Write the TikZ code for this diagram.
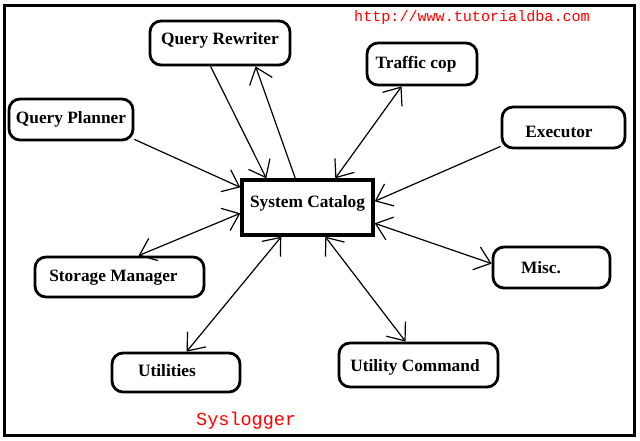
\documentclass[tikz,border=0pt]{standalone}
\usepackage{fontspec}
\setmainfont{Liberation Serif}
\newfontfamily\courier{Liberation Mono}
\usetikzlibrary{arrows.meta,calc}

\begin{document}
\begin{tikzpicture}[x=1pt,y=-1pt,inner sep=0pt,
    >={Straight Barb[length=15pt,width=24pt]},
    module/.style={draw,line width=2.8pt,rounded corners=11pt,
      font=\fontsize{17.3}{19}\selectfont\bfseries,text height=12pt,text depth=4pt},
    catalog/.style={module,line width=3.4pt,rounded corners=0pt,text depth=12pt},
    link/.style={line width=1.2pt,->},
    both/.style={line width=1.2pt,<->},
    redtext/.style={anchor=base west,text=red}]
 \useasboundingbox (0,0) rectangle (640,440);
 \draw[line width=3pt] (4,5) rectangle (634,435);
 \node[redtext,font=\courier\fontsize{15.1}{16}\selectfont] (url) at (354,21) {http://www.tutorialdba.com};
 \node[redtext,font=\courier\fontsize{18.5}{20}\selectfont] (syslog) at (196,425) {Syslogger};
 \node[module,minimum width=140pt,minimum height=44pt,text depth=9pt] (rewriter) at (220,43) {Query Rewriter};
 \node[module,minimum width=110pt,minimum height=42pt] (trafficcop) at (422,64) {\hspace*{-12pt}Traffic cop};
 \node[module,minimum width=124pt,minimum height=41pt] (planner) at (71,119.5) {Query Planner};
 \node[module,minimum width=123pt,minimum height=41pt,text height=19pt,text depth=0pt] (executor) at (563.5,127.5) {\hspace*{-9pt}Executor};
 \node[catalog,minimum width=131pt,minimum height=55pt] (catalog) at (307.5,207.5) {System Catalog};
 \node[module,minimum width=169pt,minimum height=40pt] (storage) at (119.5,277) {\hspace*{-12pt}Storage Manager};
 \node[module,minimum width=117pt,minimum height=41pt,text height=14pt,text depth=2pt] (misc) at (551.5,267.5) {\hspace*{-21pt}Misc.};
 \node[module,minimum width=128pt,minimum height=39pt] (utilities) at (176,372.5) {\hspace*{-18pt}Utilities};
 \node[module,minimum width=159pt,minimum height=44pt,text height=15pt,text depth=2pt] (utilcmd) at (418.5,365) {\hspace*{-7pt}Utility Command};
 \draw[link] ($(rewriter.south west)+(62,0)$) -- ($(catalog.north west)+(26,0)$);
 \draw[link] ($(catalog.north west)+(55,0)$) -- ($(rewriter.south west)+(107,0)$);
 \draw[both] ($(trafficcop.south west)+(36,0)$) -- ($(catalog.north west)+(95,0)$);
 \draw[link] ($(planner.south east)+(0,-2)$) -- ($(catalog.north west)+(0,9)$);
 \draw[both] ($(catalog.north west)+(0,35)$) -- ($(storage.north west)+(105,0)$);
 \draw[link] ($(executor.south west)+(0,-3)$) -- ($(catalog.north east)+(0,23)$);
 \draw[both] ($(catalog.north east)+(0,45)$) -- ($(misc.north west)+(0,18)$);
 \draw[both] ($(catalog.south west)+(41,0)$) -- ($(utilities.north west)+(76,0)$);
 \draw[both] ($(catalog.south west)+(85,0)$) -- ($(utilcmd.north west)+(68,0)$);
\end{tikzpicture}
\end{document}
